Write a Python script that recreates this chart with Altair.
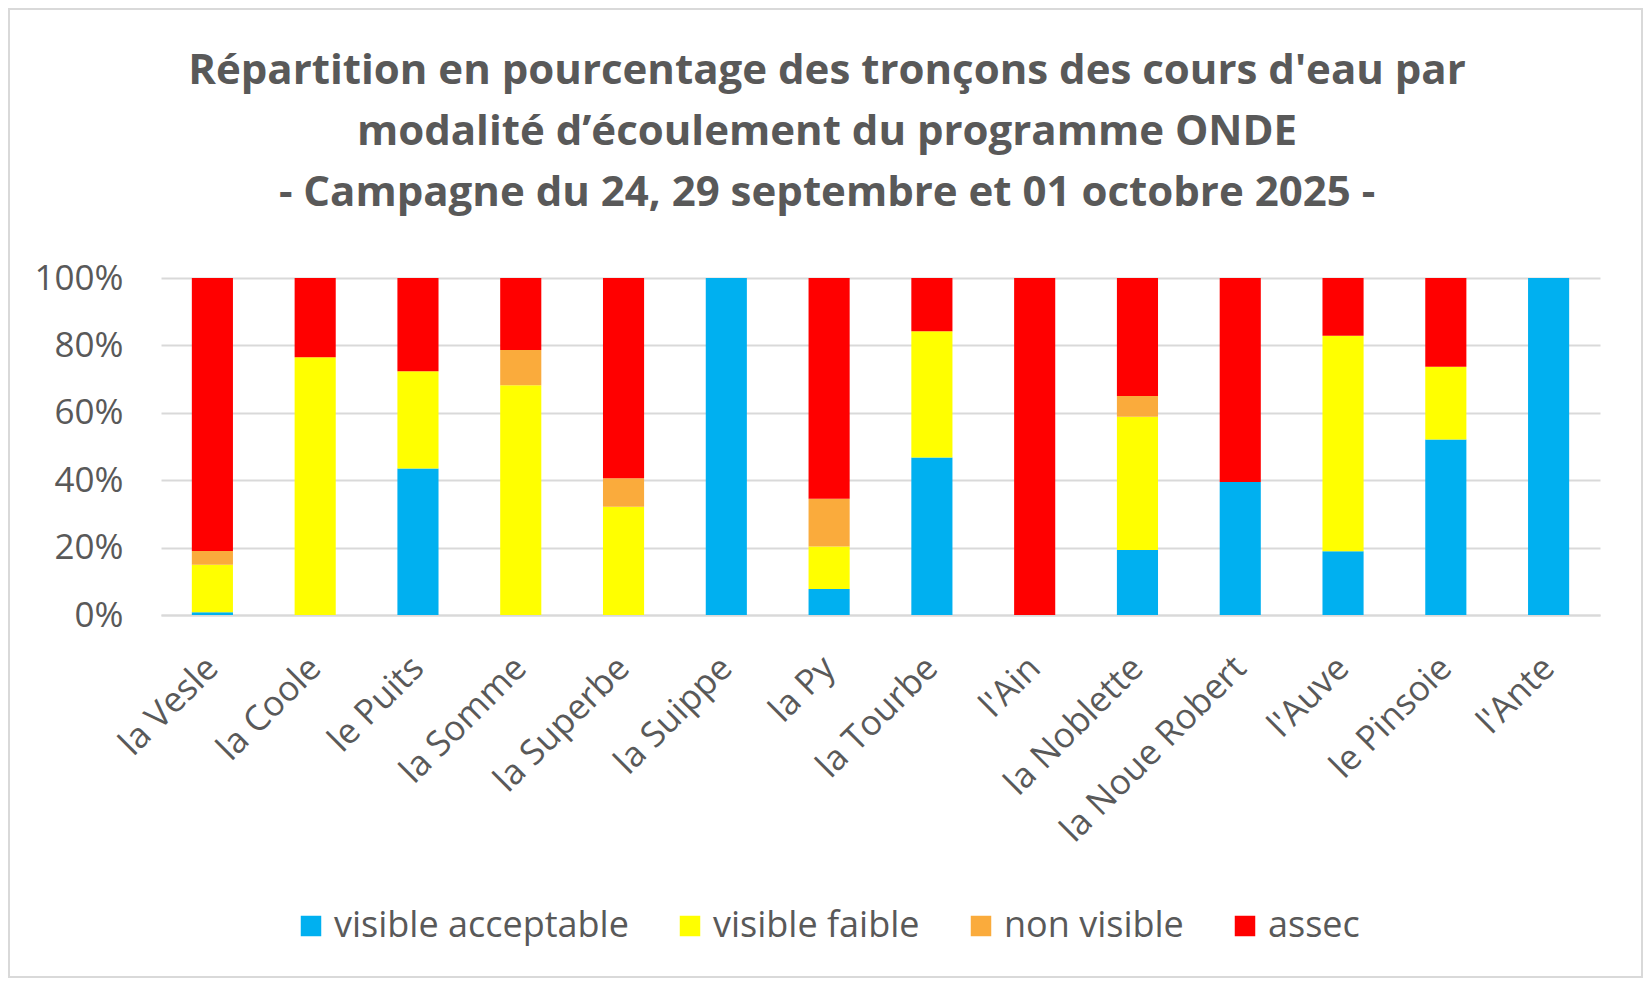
import altair as alt
import pandas as pd

rivers = ["la Vesle", "la Coole", "le Puits", "la Somme", "la Superbe", "la Suippe", "la Py",
          "la Tourbe", "l'Ain", "la Noblette", "la Noue Robert", "l'Auve", "le Pinsoie", "l'Ante"]
visible_acceptable = [0.8, 0, 43.5, 0, 0, 100, 7.7, 46.7, 0, 19.3, 39.5, 18.9, 52.1, 100]
visible_faible = [14.1, 76.5, 28.8, 68.2, 32.1, 0, 12.6, 37.5, 0, 39.5, 0, 64.0, 21.6, 0]
non_visible = [4.1, 0, 0, 10.4, 8.5, 0, 14.2, 0, 0, 6.2, 0, 0, 0, 0]
assec = [81.0, 23.5, 27.7, 21.4, 59.4, 0, 65.5, 15.8, 100, 35.0, 60.5, 17.1, 26.3, 0]

categories = ["visible acceptable", "visible faible", "non visible", "assec"]
colors = ["#00B0F0", "#FFFF00", "#FAAB3C", "#FF0000"]
series = [visible_acceptable, visible_faible, non_visible, assec]

title_lines = ["Répartition en pourcentage des tronçons des cours d'eau par",
               "modalité d’écoulement du programme ONDE",
               "- Campagne du 24, 29 septembre et 01 octobre 2025 -"]

rows = []
for ci, (cat, vals) in enumerate(zip(categories, series)):
    for r, v in zip(rivers, vals):
        rows.append({"river": r, "modalite": cat, "pct": v / 100.0, "ord": ci})
df = pd.DataFrame(rows)

FONT = "Open Sans"
GREY = "#595959"
W, H = 1439, 337

bars = alt.Chart(df).mark_bar().encode(
    x=alt.X("river:N", sort=rivers, title=None,
            scale=alt.Scale(paddingInner=0.6, paddingOuter=0.3),
            axis=alt.Axis(labelAngle=-45, labelFontSize=35, labelColor=GREY, labelFont=FONT,
                          ticks=False, domainColor="#D9D9D9", domainWidth=2, labelLimit=0,
                          labelPadding=47, labelAlign="right", labelBaseline="middle")),
    y=alt.Y("pct:Q", stack="zero", title=None,
            scale=alt.Scale(domain=[0, 1]),
            axis=alt.Axis(format="%", values=[0, 0.2, 0.4, 0.6, 0.8, 1.0], labelFontSize=35,
                          labelColor=GREY, labelFont=FONT, ticks=False, domain=False,
                          gridColor="#D9D9D9", gridWidth=2, labelPadding=38)),
    color=alt.Color("modalite:N", sort=categories,
                    scale=alt.Scale(domain=categories, range=colors),
                    legend=alt.Legend(title=None, orient="none", direction="horizontal",
                                      legendX=132, legendY=630, symbolType="square",
                                      symbolSize=420, symbolStrokeWidth=0, labelFontSize=36,
                                      labelFont=FONT, labelColor=GREY, columnPadding=43,
                                      labelOffset=5, padding=0, labelLimit=0)),
    order=alt.Order("ord:Q"),
)

title = alt.Chart(alt.Data(values=[{"a": 1}])).mark_text(
    font=FONT, fontSize=42, fontWeight="bold", color=GREY, lineHeight=61,
    align="center", baseline="middle",
).encode(
    x=alt.value(666), y=alt.value(-207), text=alt.value(title_lines),
)

frame = alt.Chart(alt.Data(values=[{"a": 1}])).mark_rect(
    fill=None, stroke="#D9D9D9", strokeWidth=2
).encode(
    x=alt.value(-152), x2=alt.value(W + 42),
    y=alt.value(-269), y2=alt.value(H + 362),
)

chart = alt.layer(bars, title, frame).properties(
    width=W, height=H,
    padding={"left": 153, "top": 270, "right": 44, "bottom": 366},
    autosize=alt.AutoSizeParams(type="none"),
).configure_view(stroke=None)

chart.save("out.html", embed_options={"renderer": "svg", "actions": False})
